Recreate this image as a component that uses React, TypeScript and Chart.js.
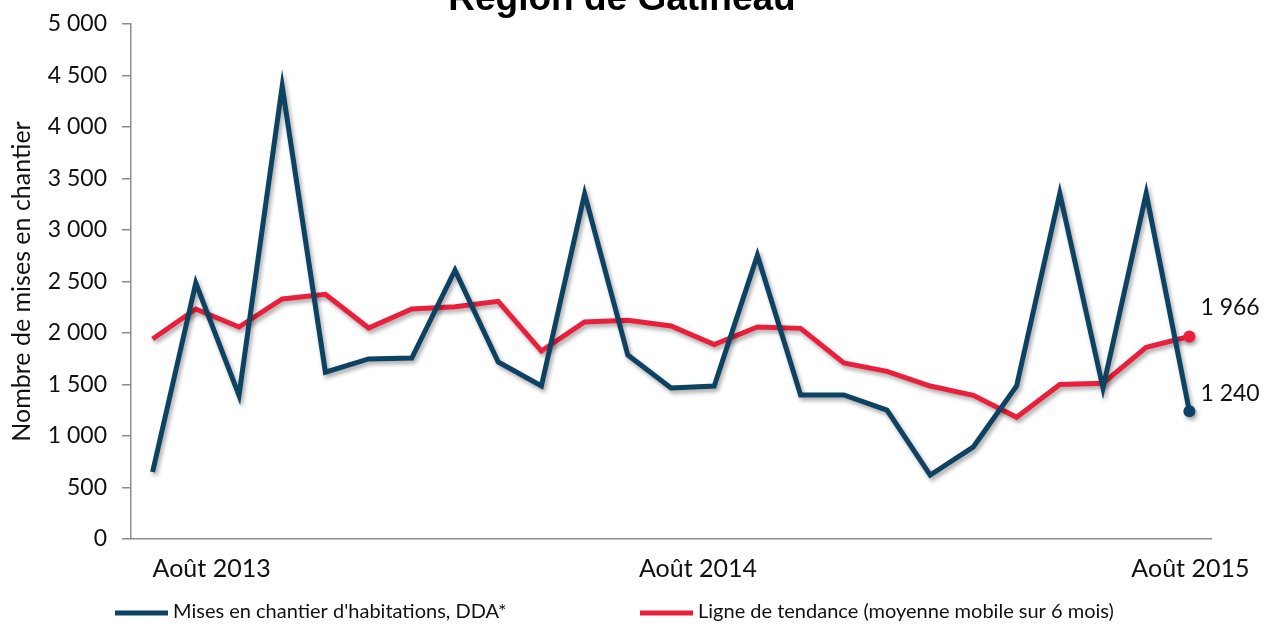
import React, { useEffect, useRef } from "react";
import { Chart, registerables } from "chart.js";

Chart.register(...registerables);

const TITLE = "Région de Gatineau";
const Y_TITLE = "Nombre de mises en chantier";

const months: string[] = [
  "Août 2013", "Sept. 2013", "Oct. 2013", "Nov. 2013", "Déc. 2013",
  "Janv. 2014", "Févr. 2014", "Mars 2014", "Avr. 2014", "Mai 2014", "Juin 2014", "Juil. 2014",
  "Août 2014", "Sept. 2014", "Oct. 2014", "Nov. 2014", "Déc. 2014",
  "Janv. 2015", "Févr. 2015", "Mars 2015", "Avr. 2015", "Mai 2015", "Juin 2015", "Juil. 2015",
  "Août 2015",
];

const shownMonthLabels: string[] = ["Août 2013", "Août 2014", "Août 2015"];

const startsSeries: number[] = [
  650, 2485, 1395, 4395, 1620, 1748, 1757, 2610, 1718, 1485, 3350, 1786,
  1466, 1485, 2755, 1398, 1398, 1252, 621, 895, 1485, 3355, 1466, 3355, 1240,
];

const trendSeries: number[] = [
  1942, 2233, 2058, 2330, 2375, 2048, 2233, 2255, 2308, 1825, 2107, 2124,
  2068, 1888, 2058, 2045, 1709, 1628, 1485, 1395, 1182, 1500, 1512, 1862, 1966,
];

const seriesNames: string[] = [
  "Mises en chantier d'habitations, DDA*",
  "Ligne de tendance (moyenne mobile sur 6 mois)",
];

const yTicks: number[] = [0, 500, 1000, 1500, 2000, 2500, 3000, 3500, 4000, 4500, 5000];

const BLUE = "#0d4262";
const RED = "#ea1f3b";
const AXIS = "#8c8c8c";
const FONT = "Lato, 'Noto Sans', sans-serif";

const fmt = (v: number) => String(Math.round(v)).replace(/\B(?=(\d{3})+(?!\d))/g, " ");

const shadowPlugin = {
  id: "lineShadow",
  beforeDatasetsDraw(chart: any) {
    const ctx = chart.ctx;
    ctx.save();
    ctx.shadowColor = "rgba(0,0,0,0.35)";
    ctx.shadowBlur = 4;
    ctx.shadowOffsetX = 2;
    ctx.shadowOffsetY = 3;
  },
  afterDatasetsDraw(chart: any) {
    chart.ctx.restore();
  },
};

const decorPlugin = {
  id: "decor",
  afterDraw(chart: any) {
    const ctx = chart.ctx;
    ctx.save();
    // Title (cut off at top as in the reference)
    ctx.fillStyle = "#000";
    ctx.font = "bold 37px 'Liberation Sans', Arial, sans-serif";
    ctx.textAlign = "center";
    ctx.textBaseline = "alphabetic";
    ctx.fillText(TITLE, 622, 10);

    // X labels
    const xs = chart.scales.x;
    ctx.font = `25px ${FONT}`;
    ctx.fillStyle = "#111";
    ctx.textBaseline = "middle";
    months.forEach((m, i) => {
      if (!shownMonthLabels.includes(m)) return;
      const px = xs.getPixelForValue(i);
      if (i === 0) {
        ctx.textAlign = "left";
        ctx.fillText(m, px, 569);
      } else if (i === months.length - 1) {
        ctx.textAlign = "center";
        ctx.fillText(m, px + 1, 569);
      } else {
        ctx.textAlign = "center";
        ctx.fillText(m, px + 27, 569);
      }
    });

    // Last-point value labels
    ctx.font = `23px ${FONT}`;
    ctx.textAlign = "left";
    const offs = [-18, -29];
    chart.data.datasets.forEach((ds: any, di: number) => {
      const meta = chart.getDatasetMeta(di);
      const n = ds.data.length - 1;
      const pt = meta.data[n];
      ctx.fillText(fmt(ds.data[n]), pt.x + 11, pt.y + offs[di]);
    });

    // Legend
    const items = [
      { x: 115, color: BLUE, text: chart.data.datasets[0].label },
      { x: 640, color: RED, text: chart.data.datasets[1].label },
    ];
    ctx.font = `20px ${FONT}`;
    ctx.textBaseline = "middle";
    items.forEach((it) => {
      ctx.strokeStyle = it.color;
      ctx.lineWidth = 5;
      ctx.beginPath();
      ctx.moveTo(it.x, 613);
      ctx.lineTo(it.x + 53, 613);
      ctx.stroke();
      ctx.fillStyle = "#111";
      ctx.fillText(it.text, it.x + 58, 612);
    });
    ctx.restore();
  },
};

export default function App() {
  const ref = useRef<HTMLCanvasElement | null>(null);
  useEffect(() => {
    if (!ref.current) return;
    const chart = new Chart(ref.current, {
      type: "line",
      data: {
        labels: months,
        datasets: [
          {
            label: seriesNames[0],
            data: startsSeries,
            borderColor: BLUE,
            backgroundColor: BLUE,
            borderWidth: 5,
            tension: 0,
            pointRadius: startsSeries.map((_, i) => (i === startsSeries.length - 1 ? 6 : 0)),
            pointHoverRadius: 0,
            pointBorderWidth: 0,
          },
          {
            label: seriesNames[1],
            data: trendSeries,
            borderColor: RED,
            backgroundColor: RED,
            borderWidth: 5,
            tension: 0,
            pointRadius: trendSeries.map((_, i) => (i === trendSeries.length - 1 ? 6 : 0)),
            pointHoverRadius: 0,
            pointBorderWidth: 0,
          },
        ],
      },
      options: {
        responsive: false,
        animation: false,
        events: [],
        layout: { padding: { top: 24, right: 55, bottom: 85, left: 0 } },
        plugins: {
          legend: { display: false },
          title: { display: false },
          tooltip: { enabled: false },
        },
        scales: {
          x: {
            type: "category",
            offset: true,
            grid: { display: false, drawTicks: false },
            border: { display: true, color: AXIS, width: 1.5 },
            ticks: { display: false },
          },
          y: {
            min: 0,
            max: 5000,
            afterBuildTicks: (s: any) => {
              s.ticks = yTicks.map((v) => ({ value: v }));
            },
            afterFit: (s: any) => {
              s.width = 131;
              s.paddingTop = 0;
              s.paddingBottom = 0;
            },
            grid: {
              display: true,
              drawOnChartArea: false,
              drawTicks: true,
              tickLength: 9,
              color: AXIS,
              lineWidth: 1.5,
            },
            border: { display: true, color: AXIS, width: 1.5 },
            ticks: {
              padding: 15,
              color: "#111",
              font: { family: FONT, size: 23 },
              callback: (v: any) => fmt(Number(v)),
            },
            title: {
              display: true,
              text: Y_TITLE,
              color: "#111",
              font: { family: FONT, size: 25 },
              padding: { top: 7, bottom: 0 },
            },
          },
        },
      },
      plugins: [shadowPlugin, decorPlugin],
    });
    return () => chart.destroy();
  }, []);
  return (
    <div style={{ position: "fixed", left: 0, top: 0, width: 1266, height: 624, background: "#fff" }}>
      <canvas ref={ref} width={1266} height={624} />
    </div>
  );
}
